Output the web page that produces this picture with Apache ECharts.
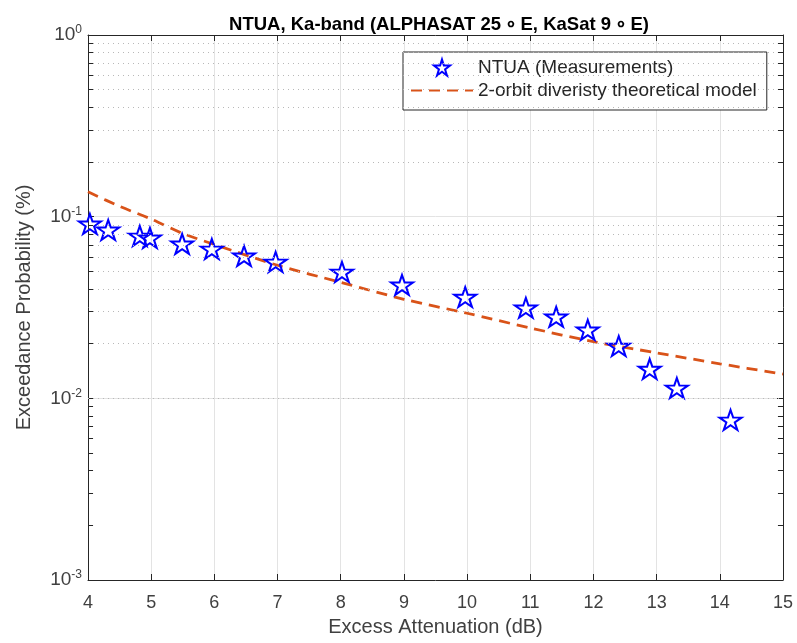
<!DOCTYPE html>
<html>
<head>
<meta charset="utf-8">
<script src="https://cdn.jsdelivr.net/npm/echarts@6/dist/echarts.min.js"></script>
<style>
html, body { margin: 0; padding: 0; background: #fff; }
#chart { width: 797px; height: 643px; }
</style>
</head>
<body>
<div id="chart"></div>
<script>
// measured points (excess attenuation dB, exceedance probability %)
var measX = [4.03, 4.32, 4.82, 4.98, 5.49, 5.96, 6.47, 6.97, 8.02, 8.97, 9.97, 10.93, 11.41, 11.91, 12.40, 12.89, 13.32, 14.17];
var measY = [0.0912, 0.0845, 0.0783, 0.0764, 0.0708, 0.0664, 0.0608, 0.0563, 0.0496, 0.0421, 0.0361, 0.0315, 0.0281, 0.0238, 0.0194, 0.0145, 0.0114, 0.0076];

// theoretical model curve
var modelX = [4, 4.5, 5, 5.5, 6, 7, 8, 9, 10, 11, 12, 13, 14, 15];
var modelY = [0.137, 0.114, 0.097, 0.0808, 0.0703, 0.054, 0.0435, 0.0351, 0.0294, 0.0244, 0.0205, 0.0178, 0.0155, 0.0136];

var minorGrid = [0.002, 0.003, 0.004, 0.005, 0.006, 0.007, 0.008, 0.009,
	0.02, 0.03, 0.04, 0.05, 0.06, 0.07, 0.08, 0.09,
	0.2, 0.3, 0.4, 0.5, 0.6, 0.7, 0.8, 0.9];

var starPath = 'path://M50,0L61.23,34.55L97.55,34.55L68.17,55.9L79.39,90.45L50,69.1L20.61,90.45L31.83,55.9L2.45,34.55L38.77,34.55Z';
var axisColor = '#262626';
var textColor = '#404040';
var font = 'Liberation Sans, Arial, Helvetica, sans-serif';

var myChart = echarts.init(document.getElementById('chart'));

var minorLines = [];
var minorTicks = [];
minorGrid.forEach(function (v) {
	minorLines.push({ yAxis: v });
	minorTicks.push([{ coord: [4, v] }, { coord: [4.08, v] }]);
	minorTicks.push([{ coord: [14.92, v] }, { coord: [15, v] }]);
});

var option = {
	animation: false,
	title: {
		text: 'NTUA, Ka-band (ALPHASAT 25\u2009\u2218\u2009E, KaSat 9\u2009\u2218\u2009E)',
		left: 434,
		textAlign: 'center',
		top: 10,
		textStyle: { fontFamily: font, fontSize: 18.5, fontWeight: 'bold', color: '#000' }
	},
	legend: {
		orient: 'vertical',
		left: 403,
		top: 52,
		padding: [6, 10, 10, 7],
		itemGap: 4,
		itemWidth: 62,
		itemHeight: 20,
		borderColor: axisColor,
		borderWidth: 1,
		backgroundColor: '#fff',
		textStyle: { fontFamily: font, fontSize: 19, color: axisColor },
		data: [
			{ name: 'NTUA (Measurements)' },
			{ name: '2-orbit diveristy theoretical model', itemStyle: { opacity: 0 } }
		]
	},
	grid: {
		left: 88,
		right: 14,
		top: 35,
		bottom: 63,
		outerBoundsMode: 'none'
	},
	xAxis: [{
		type: 'value',
		min: 4,
		max: 15,
		interval: 1,
		name: 'Excess Attenuation (dB)',
		nameLocation: 'middle',
		nameGap: 37,
		nameTextStyle: { fontFamily: font, fontSize: 20, color: textColor },
		axisLine: { lineStyle: { color: axisColor, width: 1 } },
		axisTick: { inside: true, length: 6, lineStyle: { color: axisColor } },
		axisLabel: { fontFamily: font, fontSize: 18, color: textColor, margin: 14 },
		splitLine: { show: true, lineStyle: { color: '#e3e3e3', width: 1 } }
	}, {
		type: 'value',
		position: 'top',
		min: 4,
		max: 15,
		interval: 1,
		axisLine: { show: true, lineStyle: { color: axisColor, width: 1 } },
		axisTick: { inside: true, length: 6, lineStyle: { color: axisColor } },
		axisLabel: { show: false },
		splitLine: { show: false }
	}],
	yAxis: [{
		type: 'log',
		logBase: 10,
		min: 0.001,
		max: 1,
		name: 'Exceedance Probability (%)',
		nameLocation: 'middle',
		nameGap: 54,
		nameTextStyle: { fontFamily: font, fontSize: 20, color: textColor },
		axisLine: { show: true, lineStyle: { color: axisColor, width: 1 } },
		axisTick: { inside: true, length: 6, lineStyle: { color: axisColor } },
		axisLabel: {
			margin: 6,
			formatter: function (v) {
				var e = Math.round(Math.log10(v));
				return '{b|10}{s|' + e + '}';
			},
			rich: {
				b: { fontFamily: font, fontSize: 19, color: textColor },
				s: { fontFamily: font, fontSize: 12, color: textColor, verticalAlign: 'top', padding: [0, 0, 10, 0] }
			}
		},
		splitLine: { show: true, lineStyle: { color: '#e3e3e3', width: 1 } }
	}, {
		type: 'log',
		logBase: 10,
		min: 0.001,
		max: 1,
		position: 'right',
		axisLine: { show: true, lineStyle: { color: axisColor, width: 1 } },
		axisTick: { inside: true, length: 6, lineStyle: { color: axisColor } },
		axisLabel: { show: false },
		splitLine: { show: false }
	}],
	series: [{
		name: 'minor grid',
		type: 'line',
		data: [],
		silent: true,
		markLine: {
			silent: true,
			symbol: 'none',
			label: { show: false },
			lineStyle: { type: [1, 4], color: '#b8b8b8', width: 1 },
			data: minorLines
		}
	}, {
		name: 'minor ticks',
		type: 'line',
		data: [],
		silent: true,
		markLine: {
			silent: true,
			symbol: 'none',
			label: { show: false },
			lineStyle: { type: 'solid', color: axisColor, width: 1 },
			data: minorTicks
		}
	}, {
		name: '2-orbit diveristy theoretical model',
		type: 'line',
		smooth: 0.3,
		showSymbol: false,
		symbol: 'none',
		data: modelX.map(function (x, i) { return [x, modelY[i]]; }),
		lineStyle: { color: '#d95319', width: 2.8, type: [11, 7] },
		itemStyle: { color: '#d95319' },
		z: 3
	}, {
		name: 'NTUA (Measurements)',
		type: 'line',
		symbol: starPath,
		symbolKeepAspect: true,
		symbolSize: [22, 21],
		showSymbol: true,
		data: measX.map(function (x, i) { return [x, measY[i]]; }),
		lineStyle: { opacity: 0, width: 0 },
		itemStyle: { color: 'rgba(255,255,255,0)', borderColor: '#0000ff', borderWidth: 2 },
		z: 4
	}]
};
myChart.setOption(option, true);
</script>
</body>
</html>
